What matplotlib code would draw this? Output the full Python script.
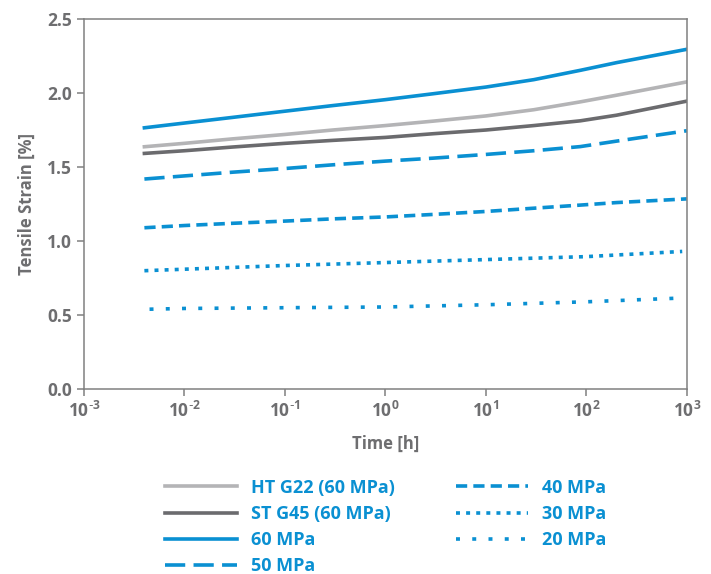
"""Tensile strain vs. time (creep curves)."""

import math

import matplotlib

matplotlib.use("Agg")
import matplotlib.pyplot as plt
from matplotlib.ticker import FixedLocator, FuncFormatter

# time points [h] and tensile strain [%]
t_main = [0.004, 0.01, 0.03, 0.1, 0.3, 1, 3, 10, 30, 87, 200, 1000]
ht_g22 = [1.637, 1.66, 1.69, 1.72, 1.75, 1.78, 1.81, 1.845, 1.887, 1.94, 1.985, 2.075]
st_g45 = [1.592, 1.61, 1.635, 1.66, 1.68, 1.70, 1.725, 1.75, 1.78, 1.812, 1.85, 1.945]
mpa_60 = [1.765, 1.797, 1.835, 1.877, 1.915, 1.955, 1.995, 2.04, 2.09, 2.153, 2.205, 2.295]
mpa_50 = [1.419, 1.44, 1.465, 1.49, 1.515, 1.54, 1.56, 1.585, 1.61, 1.638, 1.675, 1.745]
mpa_40 = [1.09, 1.105, 1.12, 1.135, 1.15, 1.163, 1.18, 1.20, 1.222, 1.243, 1.26, 1.285]

t_30 = [0.004, 0.01, 0.1, 1, 10, 100, 900]
mpa_30 = [0.80, 0.81, 0.835, 0.855, 0.875, 0.895, 0.93]

t_20 = [0.0045, 0.01, 0.1, 1, 10, 100, 850]
mpa_20 = [0.54, 0.545, 0.55, 0.555, 0.57, 0.59, 0.615]

labels = ["HT G22 (60 MPa)", "ST G45 (60 MPa)", "60 MPa", "50 MPa",
          "40 MPa", "30 MPa", "20 MPa"]

BLUE = "#0a90d2"
LIGHT = "#b4b4b6"
DARK = "#6b6b6e"
AXIS = "#808080"
TEXT = "#6e6e70"

plt.rcParams["font.family"] = ["Open Sans", "DejaVu Sans"]
plt.rcParams["mathtext.default"] = "regular"


def decade_label(v, _):
    k = round(math.log10(v))
    sign = r"\text{-}" if k < 0 else ""
    return r"$10^{%s%d}$" % (sign, abs(k))


fig = plt.figure(figsize=(7.11, 5.74), dpi=100)
ax = fig.add_axes([0.118, 0.322, 0.848, 0.645])

lw = 2.6
ax.plot(t_main, ht_g22, color=LIGHT, lw=lw, label=labels[0])
ax.plot(t_main, st_g45, color=DARK, lw=lw, label=labels[1])
ax.plot(t_main, mpa_60, color=BLUE, lw=lw, label=labels[2])
ax.plot(t_main, mpa_50, color=BLUE, lw=lw, dashes=(5.6, 2.3),
        dash_capstyle="butt", label=labels[3])
ax.plot(t_main, mpa_40, color=BLUE, lw=lw, dashes=(3.1, 1.7),
        dash_capstyle="butt", label=labels[4])
ax.plot(t_30, mpa_30, color=BLUE, lw=lw, dashes=(1.1, 1.7),
        dash_capstyle="butt", label=labels[5])
ax.plot(t_20, mpa_20, color=BLUE, lw=lw, dashes=(1.1, 3.4),
        dash_capstyle="butt", label=labels[6])

ax.set_xscale("log")
ax.set_xlim(1e-3, 1e3)
ax.set_ylim(0, 2.5)
ax.xaxis.set_major_locator(FixedLocator([10.0 ** k for k in range(-3, 4)]))
ax.xaxis.set_minor_locator(FixedLocator([]))
ax.xaxis.set_major_formatter(FuncFormatter(decade_label))
ax.set_yticks([0, 0.5, 1.0, 1.5, 2.0, 2.5])
ax.yaxis.set_major_formatter(FuncFormatter(lambda v, _: f"{v:.1f}"))

for s in ax.spines.values():
    s.set_color(AXIS)
    s.set_linewidth(1.1)
ax.tick_params(direction="out", length=5, width=1.1, color=AXIS,
               labelcolor=TEXT, labelsize=12.5)
for lab in ax.get_xticklabels() + ax.get_yticklabels():
    lab.set_fontweight("bold")

ax.set_xlabel("Time [h]", color=TEXT, fontsize=12, fontweight="bold", labelpad=10)
ax.set_ylabel("Tensile Strain [%]", color=TEXT, fontsize=12, fontweight="bold",
              labelpad=8)

leg = fig.legend(loc="upper left", bbox_to_anchor=(0.232, 0.166), ncol=2,
                 frameon=False, fontsize=13, handlelength=4.0, handletextpad=0.75,
                 columnspacing=3.4, labelspacing=0.45, borderpad=0,
                 borderaxespad=0)
for txt in leg.get_texts():
    txt.set_color(BLUE)
    txt.set_fontweight("bold")

fig.savefig("out.png", dpi=100)
